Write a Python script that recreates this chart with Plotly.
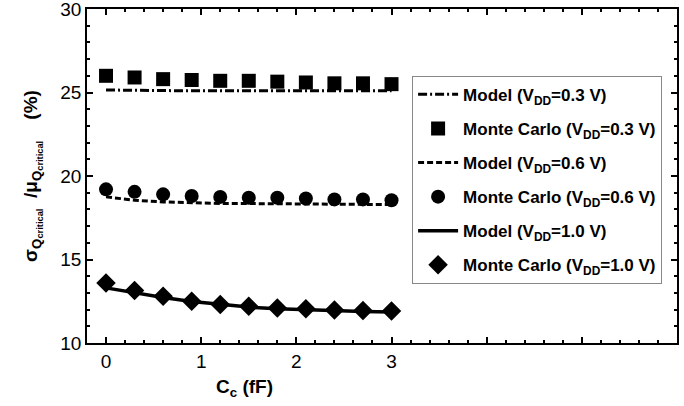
import plotly.graph_objects as go

cc = [0.0, 0.3, 0.6, 0.9, 1.2, 1.5, 1.8, 2.1, 2.4, 2.7, 3.0]

model_03 = [25.15, 25.12, 25.1, 25.1, 25.1, 25.1, 25.1, 25.1, 25.1, 25.1, 25.1]
mc_03 = [26.0, 25.9, 25.8, 25.75, 25.7, 25.7, 25.65, 25.6, 25.55, 25.55, 25.5]
model_06 = [18.75, 18.55, 18.45, 18.4, 18.35, 18.35, 18.33, 18.32, 18.3, 18.3, 18.3]
mc_06 = [19.2, 19.05, 18.9, 18.8, 18.75, 18.7, 18.7, 18.65, 18.6, 18.6, 18.55]
model_10 = [13.3, 13.0, 12.72, 12.48, 12.3, 12.15, 12.05, 11.98, 11.92, 11.88, 11.85]
mc_10 = [13.6, 13.15, 12.8, 12.5, 12.3, 12.2, 12.1, 12.05, 11.98, 11.95, 11.92]

x_tickvals = [0, 1, 2, 3, 4, 5, 6]
x_ticktext = ["0", "1", "2", "3", "", "", ""]
y_tickvals = [10, 15, 20, 25, 30]
y_ticktext = ["10", "15", "20", "25", "30"]

FONT = "Arial, 'Liberation Sans', sans-serif"

fig = go.Figure()
fig.add_trace(go.Scatter(x=cc, y=model_03, mode="lines", name="<b>Model (V<sub>DD</sub>=0.3 V)</b>",
                         legendgroup="a",
                         line=dict(color="black", width=3, dash="9px,3px,2px,3px")))
fig.add_trace(go.Scatter(x=cc, y=mc_03, mode="markers", name="<b>Monte Carlo (V<sub>DD</sub>=0.3 V)</b>",
                         legendgroup="b",
                         marker=dict(symbol="square", size=14, color="black")))
fig.add_trace(go.Scatter(x=cc, y=model_06, mode="lines", name="<b>Model (V<sub>DD</sub>=0.6 V)</b>",
                         legendgroup="c",
                         line=dict(color="black", width=3, dash="6px,3px")))
fig.add_trace(go.Scatter(x=cc, y=mc_06, mode="markers", name="<b>Monte Carlo (V<sub>DD</sub>=0.6 V)</b>",
                         legendgroup="d",
                         marker=dict(symbol="circle", size=14, color="black")))
fig.add_trace(go.Scatter(x=cc, y=model_10, mode="lines", name="<b>Model (V<sub>DD</sub>=1.0 V)</b>",
                         legendgroup="e",
                         line=dict(color="black", width=3.5)))
fig.add_trace(go.Scatter(x=cc, y=mc_10, mode="markers", name="<b>Monte Carlo (V<sub>DD</sub>=1.0 V)</b>",
                         legendgroup="f",
                         marker=dict(symbol="diamond", size=15, color="black")))

fig.update_layout(
    width=684, height=406,
    margin=dict(l=87, r=7, t=9, b=63),
    paper_bgcolor="white", plot_bgcolor="white",
    font=dict(family=FONT, color="black", size=17),
    showlegend=True,
    legend=dict(x=0.551, y=0.80, xanchor="left", yanchor="top",
                bordercolor="#888888", borderwidth=1, bgcolor="white",
                font=dict(size=17, family=FONT), tracegroupgap=9, itemwidth=40),
    annotations=[dict(text="<b>C<sub>c</sub> (fF)</b>", x=1.45, y=0, xref="x", yref="paper",
                      yshift=-45, xanchor="center", yanchor="middle", showarrow=False,
                      font=dict(size=19, family=FONT))],
)
fig.update_xaxes(range=[-0.2, 6], tickvals=x_tickvals, ticktext=x_ticktext, automargin=False,
                 ticks="inside", ticklen=6, tickwidth=1.5, tickcolor="black",
                 showline=True, linecolor="black", linewidth=1.5, mirror="allticks",
                 showgrid=False, zeroline=False,
                 tickfont=dict(size=19, family=FONT), tickprefix="<b>", ticksuffix="</b>",
                 minor=dict(dtick=0.2, tick0=0, ticks="inside", ticklen=3, tickcolor="black", showgrid=False))
fig.update_yaxes(range=[10, 30], tickvals=y_tickvals, ticktext=y_ticktext, automargin=False,
                 ticks="inside", ticklen=6, tickwidth=1.5, tickcolor="black",
                 showline=True, linecolor="black", linewidth=1.5, mirror="allticks",
                 showgrid=False, zeroline=False, ticklabeloverflow="allow",
                 tickfont=dict(size=19, family=FONT), tickprefix="<b>", ticksuffix="</b>",
                 title=dict(text="<b>σ<sub>Q<sub>critical</sub></sub>  /μ<sub>Q<sub>critical</sub></sub>    (%)</b>",
                            font=dict(size=19, family=FONT), standoff=18),
                 minor=dict(dtick=1, tick0=10, ticks="inside", ticklen=3, tickcolor="black", showgrid=False))

fig.write_html("out.html")
